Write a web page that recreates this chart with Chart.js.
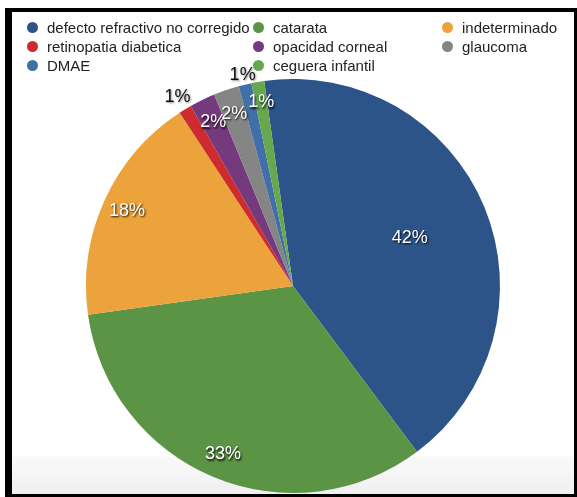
<!DOCTYPE html>
<html>
<head>
<meta charset="utf-8">
<script src="https://cdn.jsdelivr.net/npm/chart.js@4/dist/chart.umd.min.js"></script>
<style>
  html, body { margin: 0; padding: 0; background: #fff; }
  body { width: 577px; height: 497px; position: relative; overflow: hidden; font-family: "Liberation Sans", Arial, sans-serif; }
  #frame {
    position: absolute; left: 5px; top: 8px; width: 562px; height: 482px;
    border-style: solid; border-color: #000; border-width: 4px 3px 3px 7px;
    background: linear-gradient(to bottom, #fff 0, #fff 444px, #f9f9f9 445px, #f6f6f6 460px, #efefef 482px);
  }
  #wrap { position: absolute; left: 0; top: 0; width: 562px; height: 482px; }
  #legend {
    position: absolute; left: 15px; top: 6px;
    display: grid; grid-template-columns: 226px 189px auto; row-gap: 1px;
    font-size: 15px; color: #222;
  }
  .item { display: flex; align-items: center; height: 18px; white-space: nowrap; }
  .dot { width: 11px; height: 11px; border-radius: 50%; margin-right: 9px; flex: none; }
</style>
</head>
<body>
<div id="frame">
  <div id="wrap"><canvas id="pie"></canvas></div>
  <div id="legend"></div>
</div>
<script>
// Causes of visual impairment, share of cases.
const CAUSES = [
  'defecto refractivo no corregido', 'catarata', 'indeterminado',
  'retinopatia diabetica', 'opacidad corneal', 'glaucoma',
  'DMAE', 'ceguera infantil',
];
const SHARES = [42, 33, 18, 1, 2, 2, 1, 1];
const COLORS = ['#2d5488', '#5c9446', '#eca33b', '#cf2a2d', '#753a7d', '#858585', '#4170a8', '#67a84f'];

// Label distance from the centre, as a fraction of the radius (>1 = outside).
const LABEL_RADIUS = [0.61, 0.88, 0.88, 1.07, 0.88, 0.88, 1.05, 0.9];

const sliceLabels = {
  id: 'sliceLabels',
  afterDatasetsDraw(chart) {
    const ctx = chart.ctx;
    const ds = chart.data.datasets[0].data;
    const total = ds.reduce((a, b) => a + b, 0);
    ctx.save();
    ctx.font = '18px "Liberation Sans", Arial, sans-serif';
    ctx.textAlign = 'center';
    ctx.textBaseline = 'middle';
    chart.getDatasetMeta(0).data.forEach((arc, i) => {
      const { x, y, startAngle, endAngle, outerRadius } =
        arc.getProps(['x', 'y', 'startAngle', 'endAngle', 'outerRadius'], true);
      const mid = (startAngle + endAngle) / 2;
      const r = outerRadius * LABEL_RADIUS[i];
      const lx = x + Math.cos(mid) * r;
      const ly = y + Math.sin(mid) * r;
      const text = Math.round(ds[i] / total * 100) + '%';
      if (LABEL_RADIUS[i] > 1) {
        ctx.shadowColor = 'rgba(0,0,0,0.45)';
        ctx.shadowBlur = 2;
        ctx.shadowOffsetX = 1;
        ctx.shadowOffsetY = 1;
        ctx.fillStyle = '#111';
      } else {
        ctx.shadowColor = 'rgba(0,0,0,0.9)';
        ctx.shadowBlur = 2;
        ctx.shadowOffsetX = 1;
        ctx.shadowOffsetY = 1.5;
        ctx.fillStyle = '#fff';
      }
      ctx.fillText(text, lx, ly);
    });
    ctx.restore();
  },
};

const chart = new Chart(document.getElementById('pie'), {
  type: 'pie',
  data: {
    labels: CAUSES,
    datasets: [{ data: SHARES, backgroundColor: COLORS, borderWidth: 0 }],
  },
  options: {
    responsive: true,
    maintainAspectRatio: false,
    animation: false,
    rotation: -8,
    layout: { padding: { top: 67, bottom: 1, left: 0, right: 0 } },
    plugins: { legend: { display: false }, tooltip: { enabled: false } },
  },
  plugins: [sliceLabels],
});

// HTML legend in three fixed columns.
const legendEl = document.getElementById('legend');
CAUSES.forEach((name, i) => {
  const item = document.createElement('div');
  item.className = 'item';
  const dot = document.createElement('span');
  dot.className = 'dot';
  dot.style.background = COLORS[i];
  item.appendChild(dot);
  item.appendChild(document.createTextNode(name));
  legendEl.appendChild(item);
});
</script>
</body>
</html>
